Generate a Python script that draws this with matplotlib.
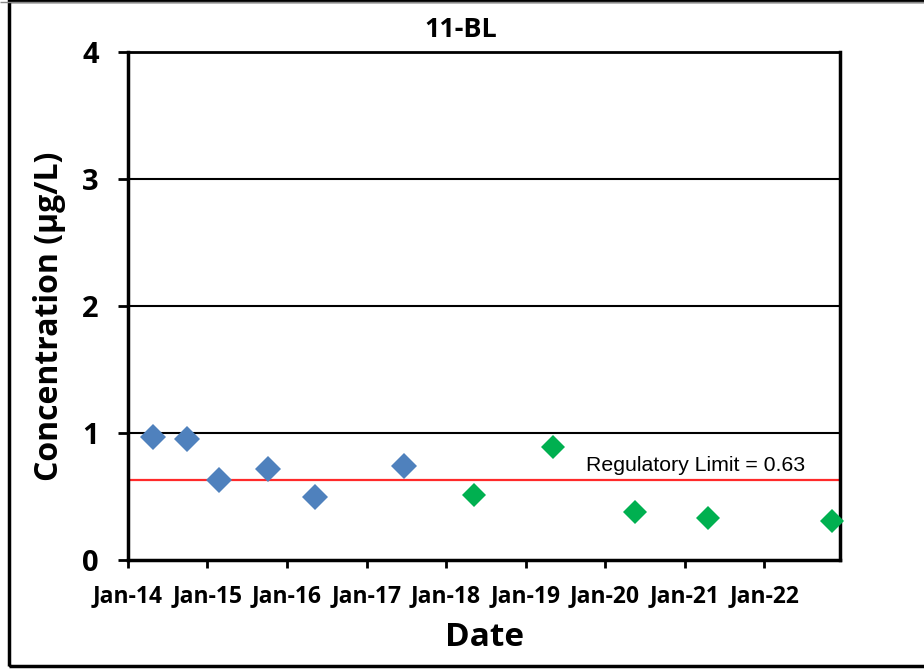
import matplotlib
matplotlib.use("Agg")
import matplotlib.pyplot as plt
import matplotlib.dates as mdates
import matplotlib.transforms as mtransforms
from matplotlib.patches import Rectangle
import datetime as dt

# Sample results for well 11-BL
blue_dates = ["2014-04-27", "2014-09-27", "2015-02-24", "2015-10-08", "2016-05-10", "2017-06-20"]
blue_values = [0.97, 0.95, 0.63, 0.72, 0.50, 0.74]
green_dates = ["2018-05-08", "2019-05-05", "2020-05-19", "2021-04-19", "2022-11-10"]
green_values = [0.51, 0.89, 0.38, 0.33, 0.31]
regulatory_limit = 0.63
tick_years = [2014, 2015, 2016, 2017, 2018, 2019, 2020, 2021, 2022]
y_ticks = [0, 1, 2, 3, 4]

bold_font = ["Open Sans", "DejaVu Sans"]

def to_dates(values):
    return [dt.datetime.strptime(s, "%Y-%m-%d") for s in values]

W, H = 924, 669
fig = plt.figure(figsize=(W / 100, H / 100), dpi=100)
ax = fig.add_axes([128 / W, 1 - 560 / H, (840 - 128) / W, (560 - 52) / H])

# outer frame
fig.patches.append(Rectangle((8.5 / W, 3 / H), 1.2, 1 - 4 / H, transform=fig.transFigure,
                             fill=False, edgecolor="black", linewidth=2.5, zorder=0))
fig.patches.append(Rectangle((0, 1 - 1.5 / H), 1, 0.0, transform=fig.transFigure,
                             fill=False, edgecolor="#888888", linewidth=1, zorder=0))

ax.set_ylim(0, 4)
ax.set_xlim(dt.datetime(2014, 1, 1), dt.datetime(2022, 12, 15))
ax.set_yticks(y_ticks)
ax.set_xticks([dt.datetime(y, 1, 1) for y in tick_years])
ax.xaxis.set_major_formatter(mdates.DateFormatter("%b-%y"))

for y in y_ticks[1:-1]:
    ax.axhline(y, color="black", linewidth=1.5, zorder=1)

ax.axhline(regulatory_limit, color="#FF2A2A", linewidth=1.6, zorder=2)
ax.text((805 - 128) / 712, 0.745, f"Regulatory Limit = {regulatory_limit}",
        transform=mtransforms.blended_transform_factory(ax.transAxes, ax.transData),
        ha="right", va="center", fontsize=15.3, family="Liberation Sans", color="black")

ax.plot(to_dates(blue_dates), blue_values, linestyle="none", marker="D",
        markersize=13, color="#4F81BD", markeredgewidth=0, zorder=3)
ax.plot(to_dates(green_dates), green_values, linestyle="none", marker="D",
        markersize=12.5, color="#00B050", markeredgewidth=0, zorder=3, clip_on=False)

for side in ["left", "right", "bottom"]:
    ax.spines[side].set_linewidth(2.5)
ax.spines["top"].set_linewidth(2.0)

ax.tick_params(axis="y", direction="out", length=7, width=2, pad=14, labelsize=21)
ax.tick_params(axis="x", direction="out", length=6, width=2, pad=11, labelsize=16.5)
for lbl in ax.get_xticklabels() + ax.get_yticklabels():
    lbl.set_family(bold_font)
    lbl.set_fontweight("bold")

fig.text(461 / W, 1 - 30 / H, "11-BL", ha="center", va="center",
         fontsize=19.5, fontweight="bold", family=bold_font)
fig.text(484 / W, 1 - 637 / H, "Date", ha="center", va="center",
         fontsize=24, fontweight="bold", family=bold_font)
fig.text(50 / W, 1 - 316 / H, "Concentration (µg/L)", ha="center", va="center",
         rotation=90, fontsize=23, fontweight="bold", family=bold_font)

fig.savefig("out.png", dpi=100)
